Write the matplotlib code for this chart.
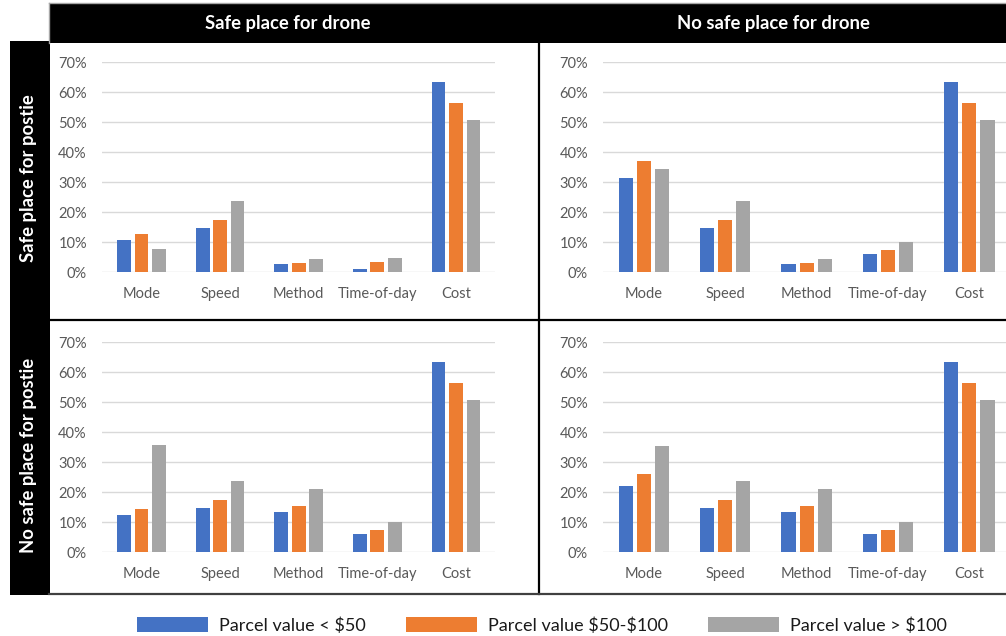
import matplotlib
matplotlib.use("Agg")
import matplotlib.pyplot as plt
import matplotlib.patches as patches
import numpy as np

plt.rcParams['font.family'] = ['Lato', 'DejaVu Sans']

# ------------------------------------------------------------------
# data (percent)
# ------------------------------------------------------------------
categories = ['Mode', 'Speed', 'Method', 'Time-of-day', 'Cost']
series_labels = [r'Parcel value < \$50', r'Parcel value \$50-\$100', r'Parcel value > \$100']
col_titles = ['Safe place for drone', 'No safe place for drone']
row_titles = ['Safe place for postie', 'No safe place for postie']

# safe postie / safe drone
sp_sd_low = [10.8, 14.7, 2.6, 1.0, 63.2]
sp_sd_mid = [12.7, 17.5, 3.0, 3.3, 56.4]
sp_sd_high = [7.7, 23.7, 4.2, 4.7, 50.6]
# safe postie / no safe drone
sp_nd_low = [31.3, 14.7, 2.6, 6.1, 63.2]
sp_nd_mid = [37.1, 17.5, 3.0, 7.2, 56.4]
sp_nd_high = [34.4, 23.7, 4.2, 9.9, 50.6]
# no safe postie / safe drone
np_sd_low = [12.2, 14.7, 13.2, 6.0, 63.2]
np_sd_mid = [14.5, 17.5, 15.5, 7.2, 56.5]
np_sd_high = [35.6, 23.6, 21.0, 9.9, 50.7]
# no safe postie / no safe drone
np_nd_low = [22.0, 14.7, 13.2, 6.0, 63.2]
np_nd_mid = [26.0, 17.5, 15.5, 7.2, 56.5]
np_nd_high = [35.3, 23.6, 21.0, 9.9, 50.7]

colors = ['#4472C4', '#ED7D31', '#A5A5A5']
W, H = 1006, 636

fig = plt.figure(figsize=(W / 100, H / 100), dpi=100)


def fx(px):
    return px / W


def fy(py):
    return 1 - py / H


def rect(x0, y0, x1, y1, **kw):
    fig.patches.append(patches.Rectangle((fx(x0), fy(y1)), fx(x1) - fx(x0), fy(y0) - fy(y1),
                                         transform=fig.transFigure, figure=fig, **kw))


def line(x0, y0, x1, y1, **kw):
    fig.add_artist(plt.Line2D([fx(x0), fx(x1)], [fy(y0), fy(y1)], transform=fig.transFigure, **kw))


# header band and left band
rect(49, 3, 1010, 43, facecolor='black', edgecolor='none', zorder=0)
rect(10, 41, 50, 595, facecolor='black', edgecolor='none', zorder=0)
line(49, 3, 1006, 3, color='#a6a6a6', lw=1)
line(49, 3, 49, 43, color='#a6a6a6', lw=1)
line(539, 43, 539, 594, color='black', lw=1.6)
line(50, 319.5, 1006, 319.5, color='black', lw=1.6)
line(49, 594, 1006, 594, color='#404040', lw=1.6)

title_kw = dict(color='white', fontsize=13.3, fontweight='bold', ha='center', va='center')
fig.text(fx(288), fy(23), col_titles[0], **title_kw)
fig.text(fx(773), fy(23), col_titles[1], **title_kw)
fig.text(fx(29), fy(178), row_titles[0], rotation=90, **title_kw)
fig.text(fx(29), fy(455), row_titles[1], rotation=90, **title_kw)

panels = [
    ((102.2, 495.3, 62, 272), [sp_sd_low, sp_sd_mid, sp_sd_high]),
    ((603.3, 1010, 62, 272), [sp_nd_low, sp_nd_mid, sp_nd_high]),
    ((102.2, 495.3, 342, 552), [np_sd_low, np_sd_mid, np_sd_high]),
    ((603.3, 1010, 342, 552), [np_nd_low, np_nd_mid, np_nd_high]),
]

x = np.arange(len(categories))
offsets = [-0.222, 0, 0.222]
bar_w = 0.175
handles = []
for (x0, x1, y0, y1), series in panels:
    ax = fig.add_axes([fx(x0), fy(y1), fx(x1) - fx(x0), fy(y0) - fy(y1)])
    handles = []
    for vals, off, c, lab in zip(series, offsets, colors, series_labels):
        h = ax.bar(x + off, vals, width=bar_w, color=c, label=lab, zorder=3)
        handles.append(h)
    ax.set_xlim(-0.5, len(categories) - 0.5)
    ax.set_ylim(0, 70)
    ax.set_yticks(np.arange(0, 71, 10))
    ax.set_yticklabels([f'{v}%' for v in range(0, 71, 10)])
    ax.set_xticks(x)
    ax.set_xticklabels(categories)
    ax.grid(axis='y', color='#d9d9d9', lw=1, zorder=0)
    for s in ax.spines.values():
        s.set_visible(False)
    ax.tick_params(length=0, labelsize=10.5, colors='#595959')
    ax.tick_params(axis='y', pad=11)
    ax.tick_params(axis='x', pad=10.5)
    ax.set_facecolor('none')

fig.legend(handles=handles, labels=series_labels, loc='center', bbox_to_anchor=(fx(542), fy(625.5)),
           ncol=3, frameon=False, fontsize=13, handlelength=3.93, handleheight=0.83,
           handletextpad=0.6, columnspacing=2.25, labelcolor='#1a1a1a')

fig.savefig('out.png', dpi=100)
